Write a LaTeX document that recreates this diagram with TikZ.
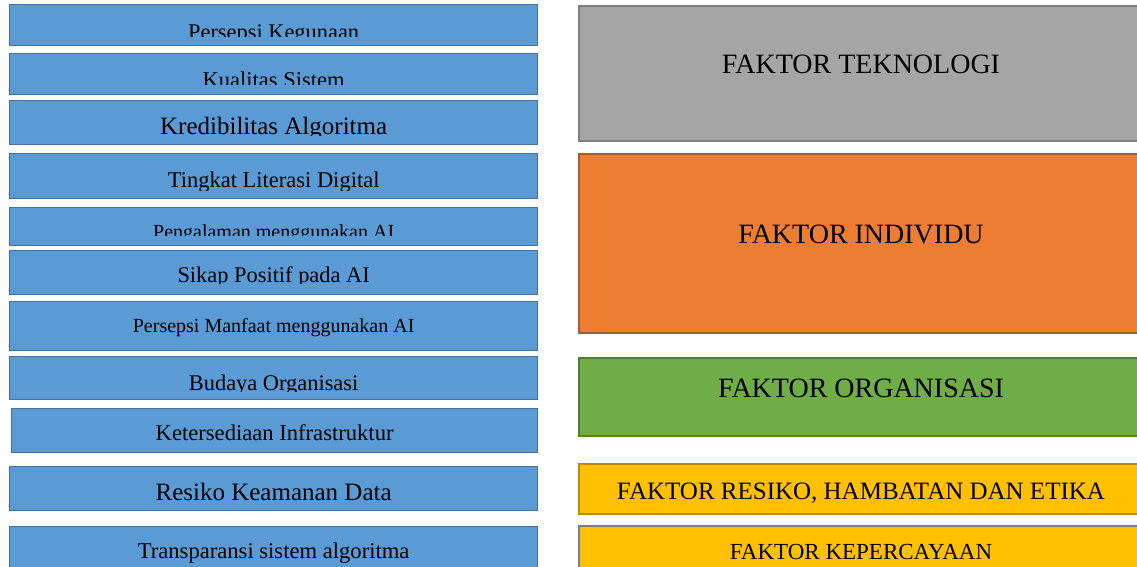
\documentclass[tikz,border=0pt]{standalone}
\usepackage{fontspec}
\setmainfont{Liberation Serif}
\usepackage{tikz}
\definecolor{ItemBlue}{HTML}{5B9BD5}
\definecolor{ItemLine}{HTML}{41719C}
\definecolor{TechGrey}{HTML}{A5A5A5}
\definecolor{TechLine}{HTML}{7F7F7F}
\definecolor{IndivOrange}{HTML}{ED7D31}
\definecolor{IndivLine}{HTML}{AE5A21}
\definecolor{OrgGreen}{HTML}{70AD47}
\definecolor{OrgLine}{HTML}{507E32}
\definecolor{RiskGold}{HTML}{FFC000}
\definecolor{RiskLine}{HTML}{BC8C00}
\newcommand{\boxfont}[1]{\fontsize{#1}{#1}\selectfont}

\begin{document}
\begin{tikzpicture}[
  x=1pt, y=-1pt,
  item/.style={fill=ItemBlue, draw=ItemLine, line width=1.3pt, anchor=north west,
               minimum width=528pt, inner sep=0pt},
  % label cut off by the text frame: name / baseline / clip line / size / text
  itemtext/.style n args={5}{path picture={
      \clip (path picture bounding box.north west)
            rectangle ([yshift=#3]path picture bounding box.south east);
      \node[anchor=base, inner sep=0pt, font=\boxfont{#4}] (#1)
            at ([yshift=#2]path picture bounding box.south) {#5};
  }},
  factor/.style={line width=2pt, anchor=north west, minimum width=564pt, inner sep=0pt},
]

\useasboundingbox (0,0) rectangle (1137,566);

% --- Left column: indicators ---

% Technology
\node[item, minimum height=41pt,
      itemtext={kegunaan-t}{6.2pt}{9.3pt}{22.4}{Persepsi Kegunaan}] (kegunaan) at (9,4) {};
\node[item, minimum height=41pt,
      itemtext={kualitas-t}{7.4pt}{9.7pt}{22.5}{Kualitas Sistem}] (kualitas) at (9,53) {};
\node[item, minimum height=44pt,
      itemtext={kredibilitas-t}{10.5pt}{9pt}{25}{Kredibilitas Algoritma}] (kredibilitas) at (9,100) {};

% Individual
\node[item, minimum height=45pt,
      itemtext={literasi-t}{11pt}{8pt}{22.5}{Tingkat Literasi Digital}] (literasi) at (9,153) {};
\node[item, minimum height=38pt,
      itemtext={pengalaman-t}{6.7pt}{10pt}{20}{Pengalaman menggunakan AI}] (pengalaman) at (9,207) {};
\node[item, minimum height=44pt,
      itemtext={sikap-t}{12.5pt}{11pt}{22.4}{Sikap Positif pada AI}] (sikap) at (9,250) {};
\node[item, minimum height=49pt,
      itemtext={manfaat-t}{18.4pt}{1pt}{20}{Persepsi Manfaat menggunakan AI}] (manfaat) at (9,301) {};

% Organisation
\node[item, minimum height=43pt,
      itemtext={budaya-t}{9pt}{8pt}{22.4}{Budaya Organisasi}] (budaya) at (9,356) {};
\node[item, minimum height=44pt, minimum width=526pt,
      itemtext={infra-t}{12pt}{1pt}{22.6}{Ketersediaan Infrastruktur}] (infra) at (11,408) {};

% Risk and trust
\node[item, minimum height=44pt,
      itemtext={keamanan-t}{10.5pt}{1pt}{25}{Resiko Keamanan Data}] (keamanan) at (9,466) {};
\node[item, minimum height=46pt,
      itemtext={transparansi-t}{14.3pt}{1pt}{22.6}{Transparansi sistem algoritma}] (transparansi) at (9,526) {};

% --- Right column: factors ---

\node[factor, fill=TechGrey, draw=TechLine, text height=67.3pt, text depth=67.7pt,
      font=\boxfont{28}] (teknologi) at (578,5) {FAKTOR TEKNOLOGI};
\node[factor, fill=IndivOrange, draw=IndivLine, text height=89pt, text depth=90pt,
      font=\boxfont{28}] (individu) at (578,153) {FAKTOR INDIVIDU};
\node[factor, fill=OrgGreen, draw=OrgLine, text height=39pt, text depth=39pt,
      font=\boxfont{28}] (organisasi) at (578,357) {FAKTOR ORGANISASI};
\node[factor, fill=RiskGold, draw=RiskLine, text height=35.3pt, text depth=14.7pt,
      font=\boxfont{25}] (resiko) at (578,463) {FAKTOR RESIKO, HAMBATAN DAN ETIKA};
\node[factor, fill=RiskGold, draw=TechLine, text height=33pt, text depth=14pt,
      font=\boxfont{23}] (kepercayaan) at (578,525) {FAKTOR KEPERCAYAAN};

\end{tikzpicture}
\end{document}
